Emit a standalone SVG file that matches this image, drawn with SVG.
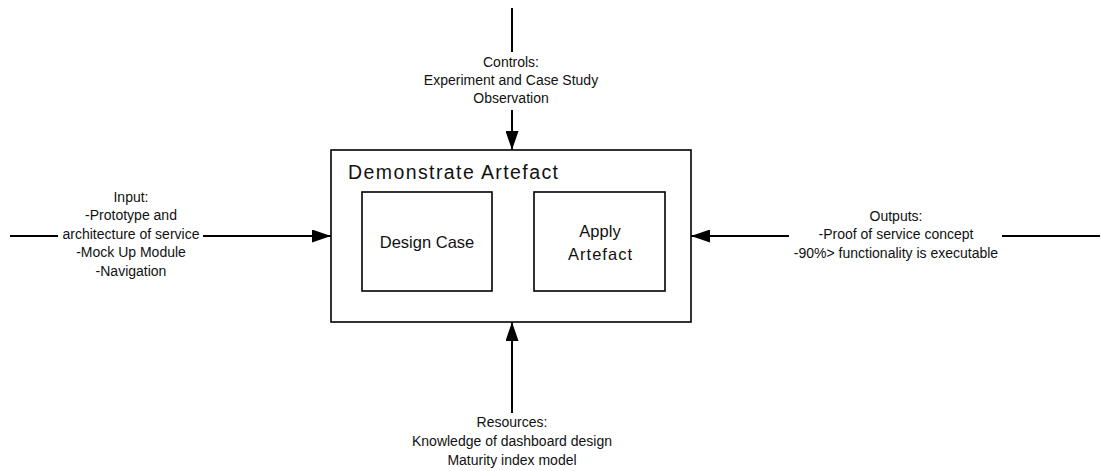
<svg xmlns="http://www.w3.org/2000/svg" width="1102" height="471" viewBox="0 0 1102 471">
<style>
.box{fill:#fff;stroke:#000;stroke-width:1.6}
.ln{stroke:#000;stroke-width:2;fill:none}
.t{font-family:"Liberation Sans",Arial,sans-serif;font-size:14px;fill:#111;text-anchor:middle}
.ti{font-family:"Liberation Sans",Arial,sans-serif;font-size:19.5px;fill:#111}
.tb{font-family:"Liberation Sans",Arial,sans-serif;font-size:16.5px;fill:#111;text-anchor:middle}
</style>
<defs>
<marker id="ah" viewBox="0 0 10 10" refX="10" refY="5" markerWidth="19" markerHeight="13" markerUnits="userSpaceOnUse" orient="auto" preserveAspectRatio="none">
<path d="M0,0 L10,5 L0,10 Z" fill="#000"/>
</marker>
</defs>
<rect width="1102" height="471" fill="#fff"/>
<g id="connectors">
<line class="ln" x1="512" y1="8" x2="512" y2="52"/>
<line class="ln" x1="512" y1="110" x2="512" y2="150" marker-end="url(#ah)"/>
<line class="ln" x1="512" y1="413" x2="512" y2="322" marker-end="url(#ah)"/>
<line class="ln" x1="10" y1="236" x2="58" y2="236"/>
<line class="ln" x1="203" y1="236" x2="331" y2="236" marker-end="url(#ah)"/>
<line class="ln" x1="1100" y1="236" x2="1002" y2="236"/>
<line class="ln" x1="789" y1="236" x2="691" y2="236" marker-end="url(#ah)"/>
</g>
<g id="demonstrate-artefact">
<rect class="box" x="331" y="150" width="360" height="172"/>
<text class="ti" x="348" y="179" textLength="210" lengthAdjust="spacing">Demonstrate Artefact</text>
</g>
<g id="design-case">
<rect class="box" x="362" y="192" width="130" height="99"/>
<text class="tb" x="427" y="248">Design Case</text>
</g>
<g id="apply-artefact">
<rect class="box" x="534" y="192" width="131" height="99"/>
<text class="tb" x="600" y="237">Apply</text>
<text class="tb" x="600" y="260" textLength="64" lengthAdjust="spacing">Artefact</text>
</g>
<g id="controls">
<text class="t" x="511" y="67">Controls:</text>
<text class="t" x="511" y="85">Experiment and Case Study</text>
<text class="t" x="511" y="103">Observation</text>
</g>
<g id="resources">
<text class="t" x="512" y="427">Resources:</text>
<text class="t" x="512" y="446">Knowledge of dashboard design</text>
<text class="t" x="512" y="465">Maturity index model</text>
</g>
<g id="input">
<text class="t" x="131" y="202">Input:</text>
<text class="t" x="131" y="220">-Prototype and</text>
<text class="t" x="131" y="239">architecture of service</text>
<text class="t" x="131" y="257">-Mock Up Module</text>
<text class="t" x="131" y="276">-Navigation</text>
</g>
<g id="outputs">
<text class="t" x="896" y="221">Outputs:</text>
<text class="t" x="896" y="239">-Proof of service concept</text>
<text class="t" x="896" y="258">-90%&gt; functionality is executable</text>
</g>
</svg>
